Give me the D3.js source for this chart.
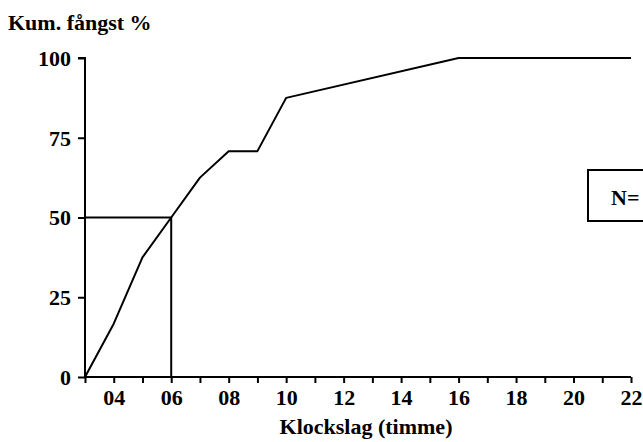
<!DOCTYPE html>
<html>
<head>
<meta charset="utf-8">
<script src="https://cdn.jsdelivr.net/npm/d3@7"></script>
<style>
  html, body { margin: 0; padding: 0; background: #fff; }
  svg { display: block; }
</style>
</head>
<body>
<svg id="chart" width="643" height="442"></svg>
<script>
// Data
const hours = [3, 4, 5, 6, 7, 8, 9, 10, 16, 22];
const cumCatch = [0, 16.7, 37.5, 50, 62.5, 70.8, 70.8, 87.5, 100, 100];
const yTicks = [0, 25, 50, 75, 100];
const xMinorTicks = [3,4,5,6,7,8,9,10,11,12,13,14,15,16,17,18,19,20,21,22];
const xLabelTicks = [4, 6, 8, 10, 12, 14, 16, 18, 20, 22];
const medianHour = 6;
const medianValue = 50;
const yTitle = "Kum. fångst %";
const xTitle = "Klockslag (timme)";
const nLabel = "N=";

const FONT = '"Liberation Serif", "Times New Roman", serif';

const svg = d3.select("#chart");
const x = d3.scaleLinear().domain([3, 22]).range([85, 631]);
const y = d3.scaleLinear().domain([0, 100]).range([377, 58]);

function styleText(sel) {
  return sel.attr("font-family", FONT).attr("font-weight", "bold").attr("font-size", 22).attr("fill", "#000");
}

// Y axis
const yAxis = d3.axisLeft(y).tickValues(yTicks).tickSize(7).tickPadding(7).tickFormat(d3.format("d"));
const gy = svg.append("g").attr("transform", `translate(${x(3)},0)`).call(yAxis);
gy.attr("font-family", FONT).attr("font-size", 22);
gy.select(".domain").attr("fill", "none").attr("stroke", "#000").attr("stroke-width", 2).attr("d", `M-7,${y(100)}H0V${y(0)}`);
gy.selectAll(".tick line").attr("stroke", "#000").attr("stroke-width", 2);
styleText(gy.selectAll(".tick text")).attr("dy", "0.34em");

// X axis minor ticks
const xAxisMinor = d3.axisBottom(x).tickValues(xMinorTicks).tickSize(6).tickFormat("");
const gx = svg.append("g").attr("transform", `translate(0,${y(0)})`).call(xAxisMinor);
gx.select(".domain").attr("fill", "none").attr("stroke", "#000").attr("stroke-width", 2).attr("d", `M${x(3)},0H${x(22)}`);
gx.selectAll(".tick line").attr("stroke", "#000").attr("stroke-width", 2);

// X axis labels
const xAxisLabels = d3.axisBottom(x).tickValues(xLabelTicks).tickSize(0).tickPadding(20)
  .tickFormat(d => d3.format("02d")(d));
const gxl = svg.append("g").attr("transform", `translate(0,${y(0)})`).call(xAxisLabels);
gxl.attr("font-family", FONT).attr("font-size", 22);
gxl.select(".domain").remove();
styleText(gxl.selectAll(".tick text")).attr("dy", "0.35em");

// Median reference lines
svg.append("path")
  .attr("d", `M${x(3)},${y(medianValue)}H${x(medianHour)}V${y(0)}`)
  .attr("fill", "none").attr("stroke", "#000").attr("stroke-width", 2);

// Curve
const line = d3.line().x((d, i) => x(hours[i])).y(d => y(d));
svg.append("path").datum(cumCatch)
  .attr("d", line)
  .attr("fill", "none").attr("stroke", "#000").attr("stroke-width", 2).attr("stroke-linejoin", "round");

// Titles
styleText(svg.append("text").attr("x", 8).attr("y", 30)).text(yTitle);
styleText(svg.append("text").attr("x", 366).attr("y", 434).attr("text-anchor", "middle")).text(xTitle);

// N box (cut by the right edge, as in the reference)
svg.append("rect").attr("x", 588).attr("y", 170).attr("width", 80).attr("height", 51)
  .attr("fill", "#fff").attr("stroke", "#000").attr("stroke-width", 2);
styleText(svg.append("text").attr("x", 611).attr("y", 205)).text(nLabel);
</script>
</body>
</html>
